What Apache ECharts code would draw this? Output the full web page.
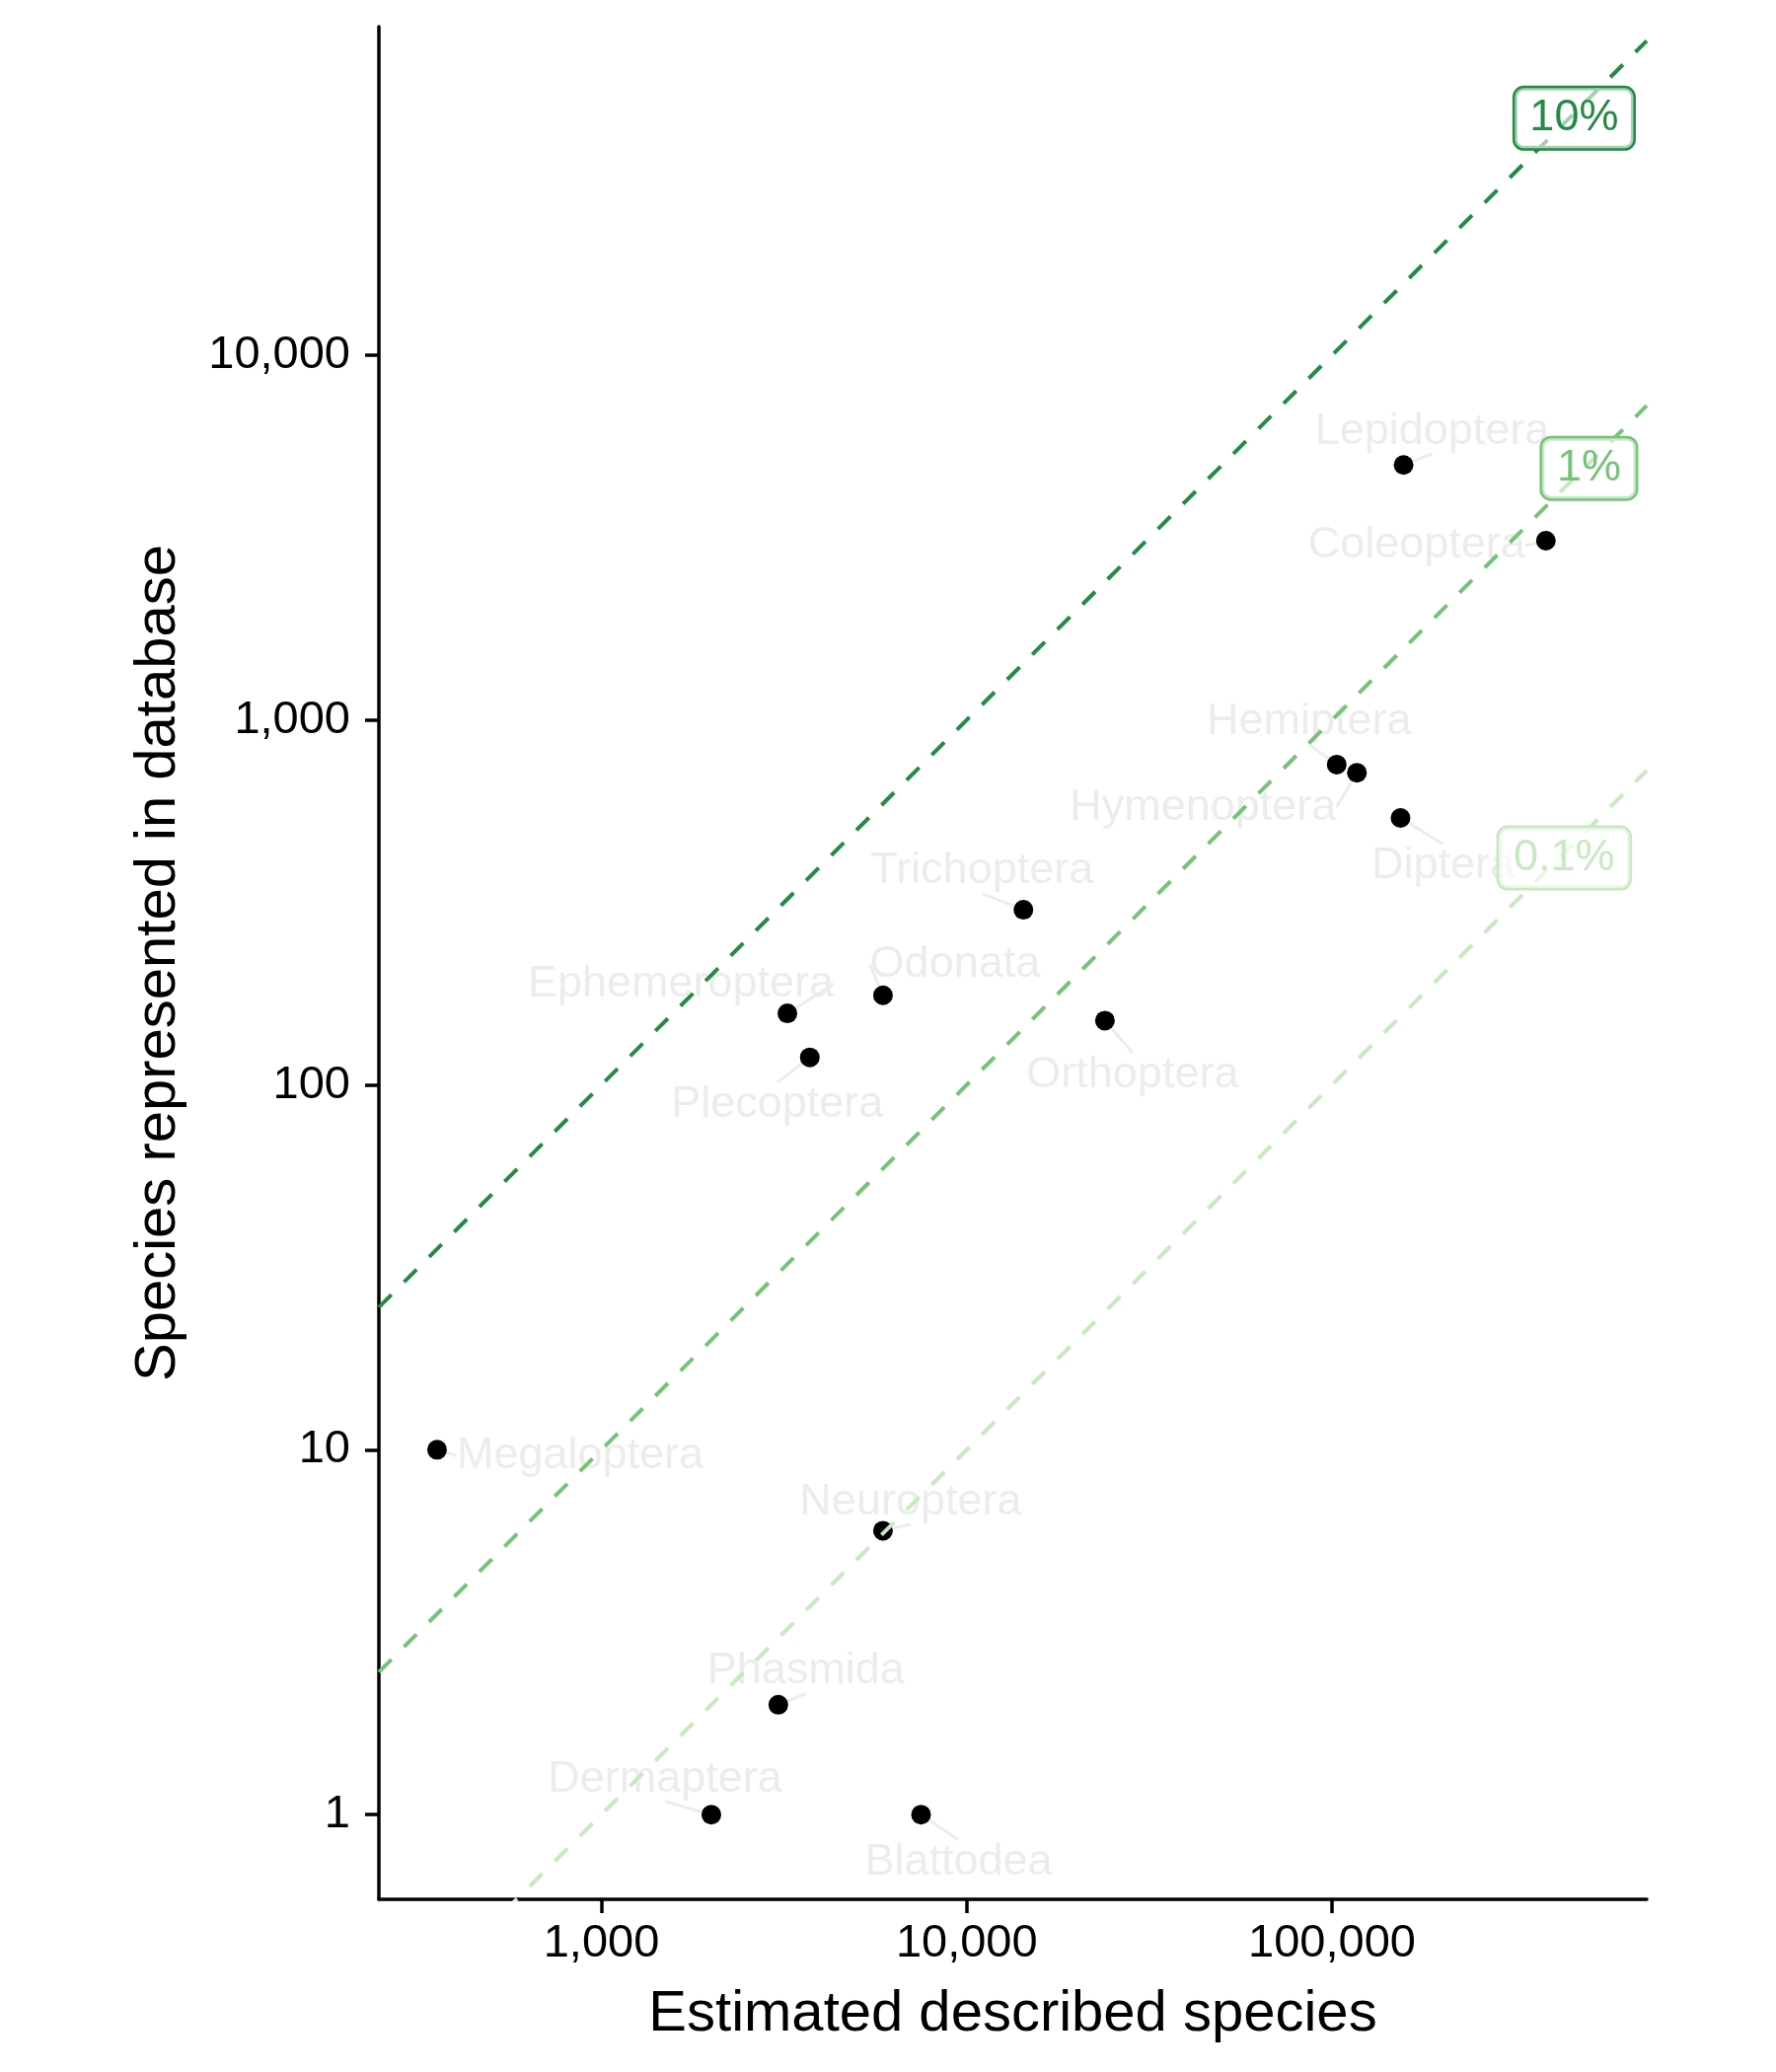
<!DOCTYPE html>
<html lang="en">
<head>
    <meta charset="UTF-8">
    <title>Species represented in database</title>
    <script src="https://cdn.jsdelivr.net/npm/echarts@6/dist/echarts.min.js"></script>
    <style>html, body { margin: 0; padding: 0; background: #fff; }</style>
</head>
<body>
    <div id="main" style="width: 1800px;height:2100px;"></div>
    <script type="text/javascript">
        // insect orders: estimated described species vs species in the database
        var orders = ['Lepidoptera', 'Coleoptera', 'Hemiptera', 'Hymenoptera', 'Diptera',
            'Trichoptera', 'Odonata', 'Ephemeroptera', 'Plecoptera', 'Orthoptera',
            'Megaloptera', 'Neuroptera', 'Phasmida', 'Dermaptera', 'Blattodea'];
        var described = [157000, 385000, 103000, 117000, 154000,
            14300, 5900, 3230, 3720, 23900,
            355, 5900, 3050, 2000, 7500];
        var represented = [5000, 3100, 755, 717, 539,
            302, 176, 157, 119, 150,
            10, 6, 2, 1, 1];

        // reference lines (share of described species)
        var ratios = [0.1, 0.01, 0.001];
        var ratioNames = ['10%', '1%', '0.1%'];
        var ratioLabelX = [460000, 505000, 432000];

        // axis ticks
        var xTicks = [1000, 10000, 100000];
        var yTicks = [1, 10, 100, 1000, 10000];
        var xMin = 246, xMax = 727000;
        var yMin = 0.586, yMax = 79500;

        // label nudges in pixels (repelled text), same order as orders
        var labelDx = [29, -131, -28, -156, 43, -42, 73, -108, -33, 28, 145, 28, 28, -47, 38];
        var labelDy = [-40, -1, -49, 29, 43, -45, -37, -36, 42, 49, 0, -35, -40, -42, 42];
        var ratioColors = ['#238b45', '#74c476', '#c7e9c0'];

        var font = 'Liberation Sans';
        var fmt = function (v) { return Math.round(v).toLocaleString('en-US'); };

        var myChart = echarts.init(document.getElementById('main'));

        var series = [];
        // dashed ratio lines
        for (var i = 0; i < ratios.length; i++) {
            series.push({
                type: 'line',
                z: 3,
                silent: true,
                showSymbol: false,
                symbol: 'none',
                clip: true,
                lineStyle: { color: ratioColors[i], width: 4, type: [18, 18] },
                data: [[xMin, ratios[i] * xMin], [xMax, ratios[i] * xMax]]
            });
        }
        // points + order names
        series.push({
            type: 'scatter',
            z: 2,
            symbolSize: 20,
            itemStyle: { color: '#000', opacity: 1 },
            data: orders.map(function (n, k) {
                return { name: n, value: [described[k], represented[k]] };
            }),
            label: {
                show: true,
                position: 'inside',
                formatter: '{b}',
                color: '#ececec',
                fontSize: 45,
                fontFamily: font
            },
            labelLayout: function (p) {
                // +6: text baseline sits a little lower than the box centre
                return { dx: labelDx[p.dataIndex], dy: labelDy[p.dataIndex] + 6 };
            },
            labelLine: { show: true, lineStyle: { color: '#ececec', width: 3 } }
        });
        // boxed ratio labels sitting on the lines
        series.push({
            type: 'scatter',
            z: 4,
            symbolSize: 0,
            silent: true,
            itemStyle: { opacity: 1 },
            data: ratioNames.map(function (n, k) {
                return {
                    name: n,
                    value: [ratioLabelX[k], ratios[k] * ratioLabelX[k]],
                    label: { color: ratioColors[k], borderColor: ratioColors[k] }
                };
            }),
            label: {
                show: true,
                position: 'inside',
                offset: [0, 5],
                formatter: '{b}',
                fontSize: 45,
                lineHeight: 45,
                fontFamily: font,
                backgroundColor: 'rgba(255,255,255,0.6)',
                borderWidth: 2.5,
                borderRadius: 9,
                padding: [8, 15]
            }
        });

        var option = {
            animation: false,
            backgroundColor: '#fff',
            grid: { left: 384, right: 131, top: 27, bottom: 175 },
            xAxis: {
                type: 'log',
                logBase: 10,
                min: xMin,
                max: xMax,
                name: 'Estimated described species',
                nameLocation: 'middle',
                nameGap: 88,
                nameTextStyle: { fontSize: 58, color: '#000', fontFamily: font },
                axisLine: { onZero: false, lineStyle: { color: '#000', width: 3.5 } },
                axisTick: { length: 14, lineStyle: { color: '#000', width: 3.5 }, customValues: xTicks },
                axisLabel: { fontSize: 47, color: '#000', fontFamily: font, margin: 22, customValues: xTicks, formatter: fmt },
                splitLine: { show: false },
                minorTick: { show: false }
            },
            yAxis: {
                type: 'log',
                logBase: 10,
                min: yMin,
                max: yMax,
                name: 'Species represented in database',
                nameLocation: 'middle',
                nameGap: 194,
                nameTextStyle: { fontSize: 58, color: '#000', fontFamily: font },
                axisLine: { onZero: false, lineStyle: { color: '#000', width: 3.5 } },
                axisTick: { length: 14, lineStyle: { color: '#000', width: 3.5 }, customValues: yTicks },
                axisLabel: { fontSize: 47, color: '#000', fontFamily: font, margin: 29, customValues: yTicks, formatter: fmt },
                splitLine: { show: false }
            },
            series: series
        };
        myChart.setOption(option);
    </script>
</body>
</html>
